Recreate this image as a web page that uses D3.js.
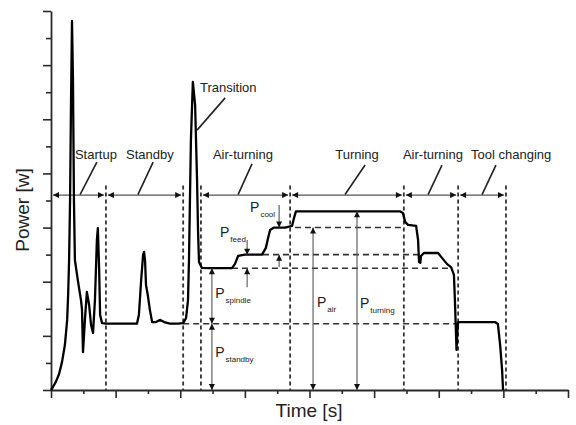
<!DOCTYPE html>
<html><head><meta charset="utf-8">
<script src="https://cdn.jsdelivr.net/npm/d3@7"></script>
<style>body{margin:0;background:#fff;}svg{display:block;font-family:"Liberation Sans",Arial,sans-serif;}</style>
</head><body>
<svg id="chart" width="576" height="425"></svg>
<script>
// ---- data (time in s, power in W) ----
const time = [0,0.6,1.5,2.5,3.4,4.3,5.0,5.3,5.6,5.9,6.2,6.5,6.8,7.1,7.4,8.3,9.3,9.6,9.9,10.5,11.1,11.8,12.4,13.0,13.6,14.2,14.5,14.9,15.2,15.8,17.0,19.8,22.9,26.6,27.2,27.9,28.5,28.8,29.1,29.4,30.0,30.6,31.3,32.5,33.7,35.0,36.8,39.3,40.9,41.8,42.4,42.7,43.0,43.3,43.9,44.6,45.2,45.5,45.8,46.7,49.2,52.3,56.0,56.9,57.9,60.0,63.1,65.3,66.5,67.2,67.8,69.0,72.4,74.6,75.2,75.8,80.2,92.5,108.0,108.9,109.6,110.5,113.0,113.6,113.9,114.3,114.5,115.4,117.9,119.8,121.0,122.6,123.8,124.7,125.0,125.3,125.5,125.8,126.0,129.7,134.3,137.4,138.3,139.0,139.6,139.9];
const power = [0,11,30,59,103,166,259,351,480,702,1071,1363,1145,702,480,406,330,296,140,259,362,314,240,211,332,554,598,443,277,247,245,245,245,245,277,406,499,510,480,388,347,296,251,251,259,251,245,245,247,266,332,480,702,924,1138,1053,776,591,473,451,450,450,450,465,495,500,500,500,525,562,591,600,600,606,635,660,660,660,660,654,621,610,606,554,473,470,495,506,506,506,488,465,454,425,332,222,148,222,251,251,251,251,244,166,74,0];

const xTicks = d3.range(0, 161, 10);
const yTicks = d3.range(0, 1401, 100);

const phaseNames = ["Startup","Standby","Air-turning","Turning","Air-turning","Tool changing"];
const phaseStart = [0, 17.0, 46.4, 74.0, 109.2, 126.0];
const phaseEnd   = [17.0, 40.9, 74.0, 109.2, 126.0, 140.8];
const boundaries = [17.0, 40.9, 46.4, 74.0, 109.2, 126.0, 140.8];

const levelNames = ["standby","spindle","feed","cool","turning"];
const levelValues = [245, 450, 500, 600, 660];

// ---- layout ----
const svg = d3.select("#chart");
const x = d3.scaleLinear().domain([0,160]).range([51,568]);
const y = d3.scaleLinear().domain([0,1400]).range([390,11]);
const ink = "#2a2a2a";

// axes
const xAxis = d3.axisBottom(x).tickValues(xTicks).tickFormat("").tickSizeOuter(0).tickSize(0);
const gx = svg.append("g").attr("transform","translate(0,390)").call(xAxis);
gx.select(".domain").attr("stroke",ink).attr("stroke-width",1.8);
gx.selectAll(".tick line").remove();
gx.selectAll(".tick").append("line")
  .attr("y2",(d)=> d%20===0 ? 8 : 4).attr("stroke",ink).attr("stroke-width",1.6);

const yAxis = d3.axisLeft(y).tickValues(yTicks).tickFormat("").tickSizeOuter(0).tickSize(0);
const gy = svg.append("g").attr("transform","translate(51,0)").call(yAxis);
gy.select(".domain").attr("stroke",ink).attr("stroke-width",1.8);
gy.selectAll(".tick line").remove();
gy.selectAll(".tick").append("line")
  .attr("x2",(d)=> d%200===0 ? -8 : -5).attr("stroke",ink).attr("stroke-width",1.6);

// axis titles
svg.append("text").attr("transform","translate(29,210) rotate(-90)")
  .attr("text-anchor","middle").attr("font-size",19).attr("fill","#222").text("Power [w]");
svg.append("text").attr("x",309).attr("y",417)
  .attr("text-anchor","middle").attr("font-size",19).attr("fill","#222").text("Time [s]");

// defs arrowheads
const defs = svg.append("defs");
defs.append("marker").attr("id","ah").attr("viewBox","0 0 10 10").attr("refX",10).attr("refY",5)
  .attr("markerWidth",7).attr("markerHeight",6).attr("markerUnits","userSpaceOnUse").attr("orient","auto-start-reverse")
  .append("path").attr("d","M0,0L10,5L0,10Z").attr("fill","#111");

// vertical dashed phase boundaries
const bandTop = 755;
svg.append("g").selectAll("line").data(boundaries).join("line")
  .attr("x1",d=>x(d)).attr("x2",d=>x(d)).attr("y1",y(bandTop)).attr("y2",y(0))
  .attr("stroke","#333").attr("stroke-width",1.8).attr("stroke-dasharray","4,3");

// horizontal dashed level lines
const levelFrom = [40.9, 56.0, 65.6, 75.5];
const levelTo   = [126.0, 124.0, 114.2, 109.6];
svg.append("g").selectAll("line").data(levelFrom).join("line")
  .attr("x1",(d)=>x(d)).attr("x2",(d,i)=>x(levelTo[i]))
  .attr("y1",(d,i)=>y(levelValues[i])).attr("y2",(d,i)=>y(levelValues[i]))
  .attr("stroke","#333").attr("stroke-width",1.6).attr("stroke-dasharray","6,4");

// phase arrows
const arrowLevel = 720;
svg.append("g").selectAll("line").data(phaseStart).join("line")
  .attr("x1",(d)=>x(d)+2).attr("x2",(d,i)=>x(phaseEnd[i])-2)
  .attr("y1",y(arrowLevel)).attr("y2",y(arrowLevel))
  .attr("stroke","#555").attr("stroke-width",1.2)
  .attr("marker-start","url(#ah)").attr("marker-end","url(#ah)");

// phase labels and leaders
const labelT = [13.9, 30.6, 59.4, 94.7, 118.2, 142.4];
const leadTop = [[14.2,842],[31.6,842],[62.2,835],[97.2,831],[121.0,831],[137.7,831]];
const leadBot = [[9.0,722],[26.9,722],[57.9,722],[91.0,722],[116.7,722],[133.4,722]];
svg.append("g").selectAll("text").data(phaseNames).join("text")
  .attr("x",(d,i)=>x(labelT[i])).attr("y",y(853)).attr("text-anchor","middle")
  .attr("font-size",13).attr("fill","#222").text(d=>d);
svg.append("g").selectAll("line").data(leadTop).join("line")
  .attr("x1",d=>x(d[0])).attr("y1",d=>y(d[1]))
  .attr("x2",(d,i)=>x(leadBot[i][0])).attr("y2",(d,i)=>y(leadBot[i][1]))
  .attr("stroke","#222").attr("stroke-width",1.6);

// Transition label
svg.append("text").attr("x",x(46.1)).attr("y",y(1101)).attr("font-size",13).attr("fill","#222").text("Transition");
svg.append("line").attr("x1",x(53.9)).attr("y1",y(1079)).attr("x2",x(45.2)).attr("y2",y(960))
  .attr("stroke","#222").attr("stroke-width",1.6);

// power curve
const line = d3.line().x((d,i)=>x(time[i])).y((d,i)=>y(power[i])).curve(d3.curveLinear);
svg.append("path").attr("d",line(power)).attr("fill","none").attr("stroke","#000")
  .attr("stroke-width",2.3).attr("stroke-linejoin","round");

// vertical measurement arrows [t, from, to, double]
const measures = [
  [49.8, 0, 245, true],
  [49.8, 245, 450, true],
  [60.7, 554, 500, false],
  [60.7, 380, 450, false],
  [70.6, 683, 600, false],
  [70.6, 454, 500, false],
  [81.1, 0, 600, true],
  [94.7, 0, 660, true]
];
svg.append("g").selectAll("line").data(measures).join("line")
  .attr("x1",d=>x(d[0])).attr("x2",d=>x(d[0])).attr("y1",d=>y(d[1])).attr("y2",d=>y(d[2]))
  .attr("stroke","#555").attr("stroke-width",1.1)
  .attr("marker-end","url(#ah)")
  .attr("marker-start",d=>d[3]?"url(#ah)":null);

// P labels
const pLabels = [
  ["standby",50.8,122],["spindle",50.8,340],["feed",52.3,565],["cool",61.6,658],["air",82.3,307],["turning",95.6,303]
];
const pt = svg.append("g").selectAll("text").data(pLabels).join("text")
  .attr("x",d=>x(d[1])).attr("y",d=>y(d[2])).attr("fill","#222");
pt.append("tspan").attr("font-size",14).text("P");
pt.append("tspan").attr("font-size",8).attr("dx",1).attr("dy",5).text(d=>d[0]);
</script>
</body></html>
